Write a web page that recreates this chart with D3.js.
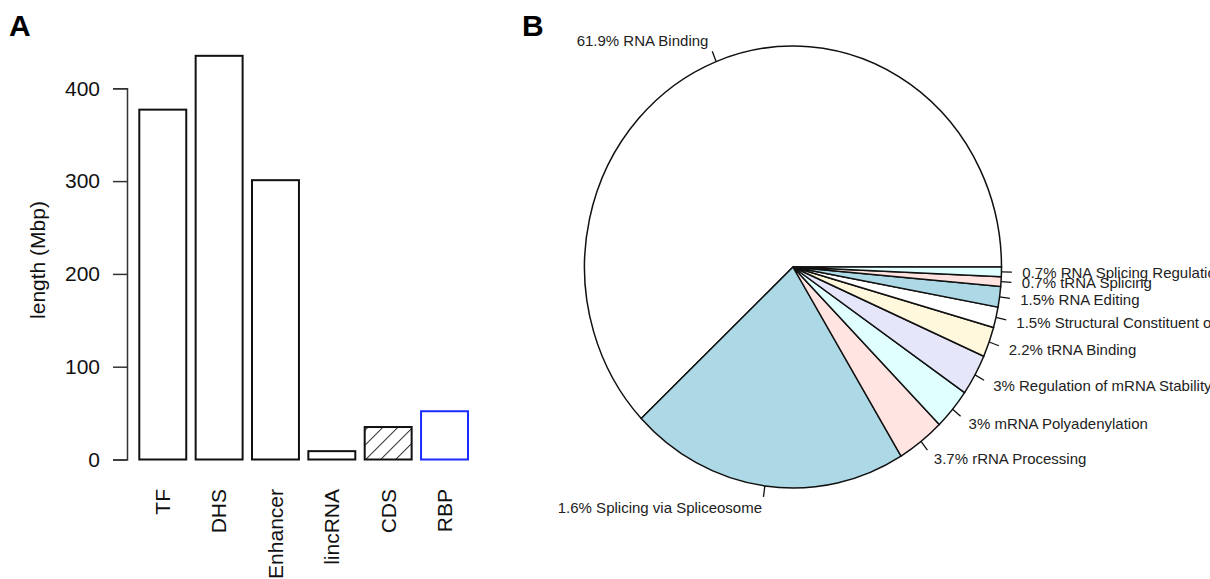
<!DOCTYPE html>
<html>
<head>
<meta charset="utf-8">
<script src="https://cdn.jsdelivr.net/npm/d3@7"></script>
<style>
  body { margin: 0; background: #fff; }
  svg { display: block; font-family: "Liberation Sans", Arial, Helvetica, sans-serif; }
</style>
</head>
<body>
<script>
// panel A data
var categories = ["TF", "DHS", "Enhancer", "lincRNA", "CDS", "RBP"];
var lengths = [377, 435, 301, 9, 35, 52];
var yTicks = [0, 100, 200, 300, 400];

// panel B data (R pie order: counter-clockwise from 3 o'clock)
var funcNames = ["RNA Binding", "Splicing via Spliceosome", "rRNA Processing", "mRNA Polyadenylation",
    "Regulation of mRNA Stability", "tRNA Binding", "Structural Constituent of Ribosome",
    "RNA Editing", "tRNA Splicing", "RNA Splicing Regulation"];
var funcShares = [61.9, 21.6, 3.7, 3, 3, 2.2, 1.5, 1.5, 0.7, 0.7];
var funcPctLabels = ["61.9%", "1.6%", "3.7%", "3%", "3%", "2.2%", "1.5%", "1.5%", "0.7%", "0.7%"];
var pieColors = ["white", "lightblue", "mistyrose", "lightcyan", "lavender", "cornsilk"];

var W = 1210, H = 579;
var svg = d3.select("body").append("svg").attr("width", W).attr("height", H);

// hatch for CDS
svg.append("defs").append("pattern")
    .attr("id", "hatch")
    .attr("patternUnits", "userSpaceOnUse")
    .attr("width", 10.6).attr("height", 10.6)
    .attr("patternTransform", "rotate(45)")
    .append("line")
    .attr("x1", 0).attr("y1", 0).attr("x2", 0).attr("y2", 10.6)
    .attr("stroke", "#111").attr("stroke-width", 1.7);

// ---------- panel A ----------
var x = d3.scaleBand().domain(categories).range([139.3, 468]).paddingInner(0.2 / 1.2).paddingOuter(0);
var y = d3.scaleLinear().domain([0, 400]).range([459.5, 88.3]);

svg.append("text").attr("x", 9).attr("y", 36)
    .style("font-weight", "bold").style("font-size", "30px").text("A");

var yAxis = svg.append("g")
    .attr("transform", "translate(127,0)")
    .call(d3.axisLeft(y).tickValues(yTicks).tickSize(14).tickPadding(13));
yAxis.selectAll("path, line").attr("stroke", "#333").attr("stroke-width", 1.5);
yAxis.selectAll("text").style("font-size", "21px").attr("fill", "#111").attr("font-family", null);

svg.append("text")
    .attr("transform", "translate(45,260) rotate(-90)")
    .attr("text-anchor", "middle")
    .style("font-size", "21px").attr("fill", "#111")
    .text("length (Mbp)");

svg.selectAll(".bar")
    .data(categories)
    .enter().append("rect")
    .attr("class", "bar")
    .attr("x", function(d) { return x(d); })
    .attr("width", x.bandwidth())
    .attr("y", function(d, i) { return y(lengths[i]); })
    .attr("height", function(d, i) { return y(0) - y(lengths[i]); })
    .attr("fill", function(d) { return d === "CDS" ? "url(#hatch)" : "white"; })
    .attr("stroke", function(d) { return d === "RBP" ? "#1a2bff" : "#111"; })
    .attr("stroke-width", 2);

svg.selectAll(".xlab")
    .data(categories)
    .enter().append("text")
    .attr("class", "xlab")
    .attr("transform", function(d) {
        return "translate(" + (x(d) + x.bandwidth() / 2) + ",489) rotate(-90)";
    })
    .attr("text-anchor", "end")
    .attr("dy", "0.35em")
    .style("font-size", "21px").attr("fill", "#111")
    .text(function(d) { return d; });

// ---------- panel B ----------
svg.append("text").attr("x", 522).attr("y", 36)
    .style("font-weight", "bold").style("font-size", "30px").text("B");

var cx = 793, cy = 267, rx = 208.5, ry = 221;

var pie = d3.pie().sort(null)
    .startAngle(Math.PI / 2)
    .endAngle(Math.PI / 2 - 2 * Math.PI);
var arcs = pie(funcShares);
var arc = d3.arc().innerRadius(0).outerRadius(rx);

var pieG = svg.append("g")
    .attr("transform", "translate(" + cx + "," + cy + ") scale(1," + (ry / rx) + ")");

pieG.selectAll("path")
    .data(arcs)
    .enter().append("path")
    .attr("d", arc)
    .attr("fill", function(d, i) { return pieColors[i % pieColors.length]; })
    .attr("stroke", "#111")
    .attr("stroke-width", 1.5)
    .attr("vector-effect", "non-scaling-stroke");

// ticks and labels, R style: tick from r to 1.05r, text at 1.1r
arcs.forEach(function(d, i) {
    var a = (d.startAngle + d.endAngle) / 2;
    var ux = Math.sin(a), uy = -Math.cos(a);
    svg.append("line")
        .attr("x1", cx + ux * rx).attr("y1", cy + uy * ry)
        .attr("x2", cx + ux * rx * 1.05).attr("y2", cy + uy * ry * 1.05)
        .attr("stroke", "#111").attr("stroke-width", 1.3);
    svg.append("text")
        .attr("x", cx + ux * rx * 1.1)
        .attr("y", cy + uy * ry * 1.1)
        .attr("dy", "0.35em")
        .attr("text-anchor", ux < 0 ? "end" : "start")
        .style("font-size", "15px").attr("fill", "#222")
        .text(funcPctLabels[i] + " " + funcNames[i]);
});
</script>
</body>
</html>
